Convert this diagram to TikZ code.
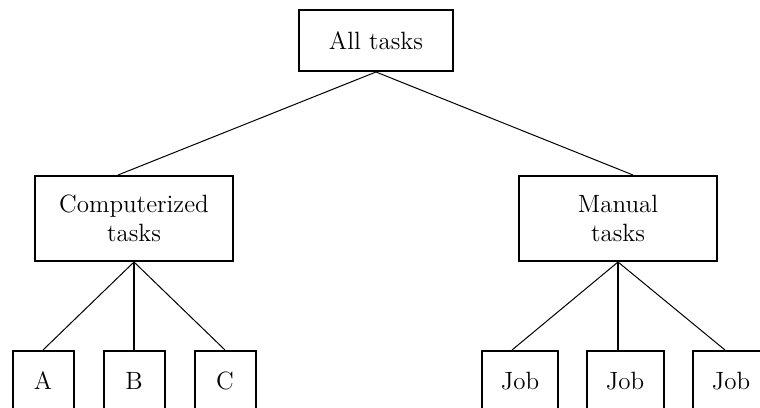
\documentclass[tikz,border=0pt]{standalone}
\begin{document}
\begin{tikzpicture}[x=0.5pt, y=-0.5pt, every node/.style={font=\fontsize{12.5}{14.5}\selectfont},
  box/.style={draw, line width=1pt, align=center, inner sep=0pt},
  leaf/.style={box, minimum height=30pt},
  link/.style={line width=0.5pt}]
  % frame of the picture, leaves run off the bottom edge
  \useasboundingbox (0,0) rectangle (760,407);
  \clip (0,0) rectangle (760,407);

  % root and second level
  \node[box, minimum width=77pt, minimum height=30.5pt] (all) at (376,40.5) {All tasks};
  \node[box, minimum width=99pt, minimum height=42.5pt] (comp) at (134,218.5) {Computerized\\tasks};
  \node[box, minimum width=99pt, minimum height=42.5pt] (manual) at (618,218.5) {Manual\\tasks};

  % leaves
  \node[leaf, minimum width=30.5pt] (a) at (43,381) {A};
  \node[leaf, minimum width=30.5pt] (b) at (134,381) {B};
  \node[leaf, minimum width=30.5pt] (c) at (225,381) {C};
  \node[leaf, minimum width=38pt] (job1) at (520,381) {Job};
  \node[leaf, minimum width=38.5pt] (job2) at (625,381) {Job};
  \node[leaf, minimum width=38pt] (job3) at (731,381) {Job};

  % connectors
  \draw[link] (all.south) -- ([xshift=-8pt]comp.north);
  \draw[link] (all.south) -- ([xshift=7.5pt]manual.north);
  \draw[link] (comp.south) -- (a.north);
  \draw[link, line width=1pt] (comp.south) -- (b.north);
  \draw[link] (comp.south) -- (c.north);
  \draw[link] (manual.south) -- ([xshift=-4pt]job1.north);
  \draw[link, line width=1pt] (manual.south) -- ([xshift=-3.5pt]job2.north);
  \draw[link] (manual.south) -- ([xshift=-3pt]job3.north);

\end{tikzpicture}
\end{document}
